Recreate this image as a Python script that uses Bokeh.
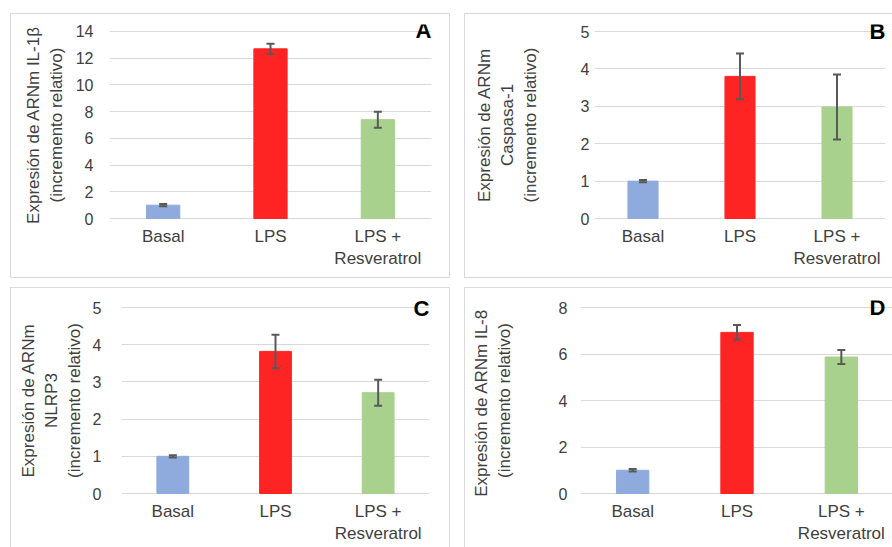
from bokeh.plotting import figure
from bokeh.models import (FactorRange, Range1d, Whisker, ColumnDataSource, Label,
                          FixedTicker, TeeHead, LinearAxis)
from bokeh.layouts import column, row
from bokeh.embed import file_html
from bokeh.resources import INLINE

# ---------------- data ----------------
categories = ["Basal", "LPS", "LPS +\nResveratrol"]
bar_colors = ["#8FAADC", "#FF2424", "#A9D18E"]

il1b_values = [1.0, 12.7, 7.4]
il1b_errors = [0.08, 0.38, 0.60]

casp1_values = [1.0, 3.80, 2.98]
casp1_errors = [0.03, 0.61, 0.87]

nlrp3_values = [1.0, 3.82, 2.71]
nlrp3_errors = [0.03, 0.45, 0.35]

il8_values = [1.0, 6.93, 5.87]
il8_errors = [0.05, 0.32, 0.30]

label_a = ["Expresión de ARNm IL-1β", "(incremento relativo)"]
label_b = ["Expresión de ARNm", "Caspasa-1", "(incremento relativo)"]
label_c = ["Expresión de ARNm", "NLRP3", "(incremento relativo)"]
label_d = ["Expresión de ARNm  IL-8", "(incremento relativo)"]

FONT = "Liberation Sans"
TXT = "#404040"
GRID = "#d9d9d9"
ERR = "#595959"
EXT = 7  # px of frame beyond the gridded area, top and bottom


def make_panel(letter, ylines, values, errors, ymax, ystep, width, height,
               bl, br, grid_top, grid_h, tick_standoff, label_standoff, lx, ly, css):
    src = ColumnDataSource(dict(
        cat=categories, val=values,
        up=[v + e for v, e in zip(values, errors)],
        lo=[v - e for v, e in zip(values, errors)],
        color=bar_colors))
    ppu = grid_h / ymax
    frame_h = grid_h + 2 * EXT
    bt = grid_top - EXT
    bb = height - bt - frame_h
    p = figure(x_range=FactorRange(*categories),
               y_range=Range1d(-EXT / ppu, ymax + EXT / ppu),
               width=width, height=height, output_backend="svg",
               toolbar_location=None, min_border_left=bl, min_border_right=br,
               min_border_top=bt, min_border_bottom=bb)
    p.styles = css
    p.outline_line_color = None
    p.background_fill_color = "white"
    p.border_fill_color = "white"
    p.vbar(x="cat", top="val", bottom=0, width=0.31, color="color", source=src)
    w = Whisker(base="cat", upper="up", lower="lo", source=src,
                line_color=ERR, line_width=2, level="overlay",
                upper_head=TeeHead(size=8, line_color=ERR, line_width=2),
                lower_head=TeeHead(size=8, line_color=ERR, line_width=2))
    p.add_layout(w)

    p.xgrid.visible = False
    p.ygrid.grid_line_color = GRID
    p.yaxis.ticker = FixedTicker(ticks=list(range(0, ymax + 1, ystep)))
    p.yaxis.axis_line_color = None
    p.yaxis.major_tick_line_color = None
    p.yaxis.minor_tick_line_color = None
    p.yaxis.major_tick_out = 0
    p.yaxis.major_tick_in = 0
    p.yaxis.major_label_standoff = tick_standoff
    p.yaxis.major_label_text_font = FONT
    p.yaxis.major_label_text_font_size = "16px"
    p.yaxis.major_label_text_color = TXT

    # y-axis title: one centred line per stacked (tick-less) axis
    mid = ymax / 2
    for i, line in enumerate(reversed(ylines)):
        ax = LinearAxis(ticker=FixedTicker(ticks=[mid]),
                        major_label_overrides={mid: line},
                        major_label_orientation="parallel",
                        axis_line_color=None, major_tick_line_color=None,
                        minor_tick_line_color=None, major_tick_out=0,
                        major_tick_in=0,
                        major_label_standoff=label_standoff if i == 0 else 1,
                        major_label_text_font=FONT,
                        major_label_text_font_size="17px",
                        major_label_text_color=TXT)
        p.add_layout(ax, "left")

    p.xaxis.axis_line_color = None
    p.xaxis.major_tick_line_color = None
    p.xaxis.major_tick_out = 0
    p.xaxis.major_tick_in = 0
    p.xaxis.major_label_standoff = 8 - EXT
    p.xaxis.major_label_text_font = FONT
    p.xaxis.major_label_text_font_size = "17px"
    p.xaxis.major_label_text_color = TXT

    p.add_layout(Label(x=lx, y=ly + EXT, x_units="screen", y_units="screen", text=letter,
                       text_font=FONT, text_font_size="22px", text_font_style="bold",
                       text_align="right", text_baseline="alphabetic",
                       text_color="black"))
    return p


border_full = {"border": "1px solid #d9d9d9"}
border_no_right = {"border": "1px solid #d9d9d9", "border-right": "none"}
border_no_bottom = {"border": "1px solid #d9d9d9", "border-bottom": "none"}
border_no_rb = {"border": "1px solid #d9d9d9", "border-right": "none", "border-bottom": "none"}

pA = make_panel("A", label_a, il1b_values, il1b_errors, 14, 2, 440, 265,
                98, 20, 17, 188, 16, 7, 322, 188, border_full)
pB = make_panel("B", label_b, casp1_values, casp1_errors, 5, 1, 428, 265,
                129, 8, 17, 187, 5, 38, 291, 187, border_no_right)
pC = make_panel("C", label_c, nlrp3_values, nlrp3_errors, 5, 1, 440, 260,
                110, 22, 19, 186, 20, 6, 308, 185, border_no_bottom)
pD = make_panel("D", label_d, il8_values, il8_errors, 8, 2, 428, 260,
                115, 0, 19, 186, 13, 42, 305, 186, border_no_rb)

layout = column(row(pA, pB, spacing=14), row(pC, pD, spacing=14), spacing=9,
                margin=(13, 0, 0, 10))

open("out.html", "w").write(file_html(layout, INLINE))
